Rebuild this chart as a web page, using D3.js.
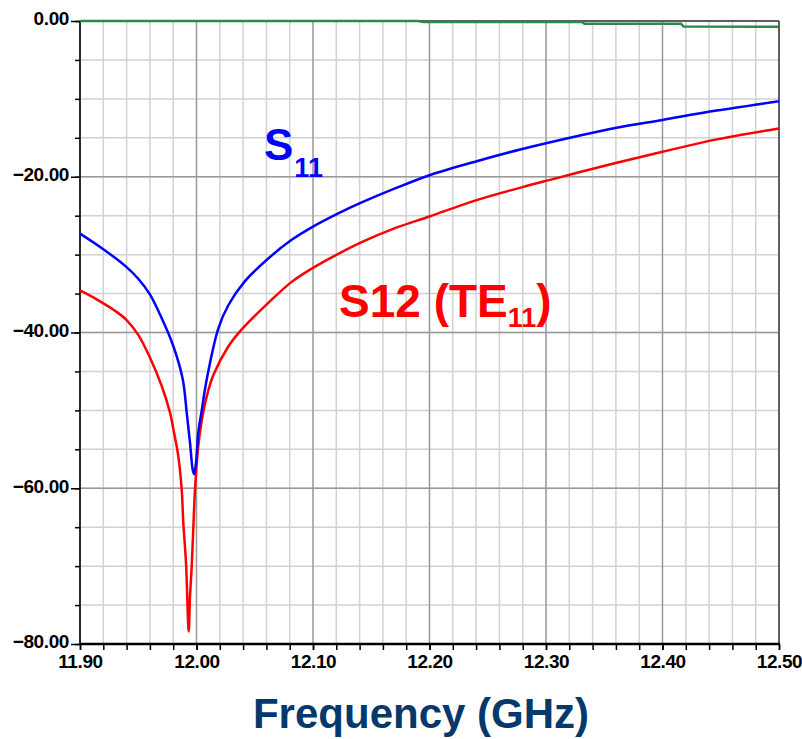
<!DOCTYPE html>
<html>
<head>
<meta charset="utf-8">
<script src="https://cdn.jsdelivr.net/npm/d3@7"></script>
<style>
  body { margin: 0; background: #fff; }
  text { font-family: "Liberation Sans", Arial, sans-serif; }
</style>
</head>
<body>
<script>
var w = 802;
var h = 739;

// S11 (blue)
var s11Freq = [11.900, 11.920, 11.940, 11.950, 11.960, 11.9687, 11.980, 11.9882, 11.9916, 11.9944,
               11.9967, 11.9979, 11.9996, 12.0015, 12.0045, 12.0088, 12.0187, 12.0273, 12.0416, 12.0616,
               12.0817, 12.100, 12.1217, 12.1418, 12.1704, 12.200, 12.2405, 12.2805, 12.3292, 12.3607,
               12.400, 12.4465, 12.500];
var s11dB = [-27.3, -29.3, -31.6, -33.1, -35.1, -37.7, -41.7, -46.0, -50.3, -54.1,
             -57.6, -58.2, -56.7, -52.9, -50.0, -46.0, -39.5, -36.5, -33.4, -30.5,
             -28.1, -26.4, -24.7, -23.3, -21.5, -19.8, -18.0, -16.4, -14.7, -13.7,
             -12.7, -11.5, -10.3];

// S12 TE11 (red)
var s12Freq = [11.900, 11.915, 11.930, 11.940, 11.950, 11.960, 11.970, 11.9773, 11.9801, 11.9844,
               11.9873, 11.9887, 11.991, 11.9933, 11.9944, 11.9959, 11.9973, 11.9987, 12.0015, 12.0045,
               12.0088, 12.0144, 12.0273, 12.0388, 12.0616, 12.0817, 12.100, 12.1217, 12.1418, 12.1704,
               12.200, 12.2405, 12.2805, 12.3034, 12.3292, 12.3607, 12.400, 12.4465, 12.500];
var s12dB = [-34.6, -35.8, -37.2, -38.4, -40.3, -43.2, -46.8, -50.3, -52.4, -55.9,
             -60.2, -64.5, -69.6, -78.4, -74.0, -70.0, -65.0, -60.2, -54.6, -51.3,
             -48.2, -45.5, -41.8, -39.6, -36.2, -33.5, -31.7, -29.9, -28.4, -26.6,
             -25.1, -23.0, -21.3, -20.4, -19.4, -18.2, -16.8, -15.2, -13.8];

// green trace near 0 dB
var s21Freq = [11.900, 12.190, 12.195, 12.331, 12.333, 12.416, 12.418, 12.500];
var s21dB = [0.0, 0.0, -0.12, -0.12, -0.35, -0.35, -0.70, -0.75];

var xMajor = [11.90, 12.00, 12.10, 12.20, 12.30, 12.40, 12.50];
var xMinor = d3.range(0, 31).map(function(i) { return +(11.90 + i * 0.02).toFixed(2); });
var yMajor = [0, -20, -40, -60, -80];
var yMinor = d3.range(0, 17).map(function(i) { return -5 * i; });

var padL = 80, padR = 779, padT = 21, padB = 644;

var x = d3.scaleLinear().domain([11.90, 12.50]).range([padL, padR]);
var y = d3.scaleLinear().domain([0, -80]).range([padT, padB]);

var svg = d3.select("body").append("svg")
    .attr("width", w)
    .attr("height", h);

svg.append("rect")
    .attr("width", w).attr("height", h)
    .attr("fill", "#ffffff");

// grid
var grid = svg.append("g");
grid.selectAll(".vmin").data(xMinor).enter().append("line")
    .attr("x1", function(d) { return x(d); }).attr("x2", function(d) { return x(d); })
    .attr("y1", padT).attr("y2", padB)
    .attr("stroke", "#d2d2d2").attr("stroke-width", 1.5);
grid.selectAll(".hmin").data(yMinor).enter().append("line")
    .attr("x1", padL).attr("x2", padR)
    .attr("y1", function(d) { return y(d); }).attr("y2", function(d) { return y(d); })
    .attr("stroke", "#d2d2d2").attr("stroke-width", 1.5);
grid.selectAll(".vmaj").data(xMajor).enter().append("line")
    .attr("x1", function(d) { return x(d); }).attr("x2", function(d) { return x(d); })
    .attr("y1", padT).attr("y2", padB)
    .attr("stroke", "#999999").attr("stroke-width", 1.3);
grid.selectAll(".hmaj").data(yMajor).enter().append("line")
    .attr("x1", padL).attr("x2", padR)
    .attr("y1", function(d) { return y(d); }).attr("y2", function(d) { return y(d); })
    .attr("stroke", "#999999").attr("stroke-width", 1.3);

// frame
svg.append("line").attr("x1", padR).attr("x2", padR).attr("y1", padT).attr("y2", padB)
    .attr("stroke", "#444").attr("stroke-width", 1.5);
svg.append("line").attr("x1", padL).attr("x2", padR).attr("y1", padT).attr("y2", padT)
    .attr("stroke", "#444").attr("stroke-width", 1.5);

// axes
var xAxisMinor = d3.axisBottom(x).tickValues(xMinor).tickSize(6).tickFormat("");
var xAxis = d3.axisBottom(x).tickValues(xMajor).tickSize(6).tickPadding(5)
    .tickFormat(d3.format(".2f"));
var yAxisMinor = d3.axisLeft(y).tickValues(yMinor).tickSize(5).tickFormat("");
var yAxis = d3.axisLeft(y).tickValues(yMajor).tickSize(9).tickPadding(2)
    .tickFormat(d3.format(".2f"));

function styleAxis(g) {
    g.select(".domain").remove();
    g.selectAll(".tick line").attr("stroke", "#000").attr("stroke-width", 1.5);
    g.selectAll(".tick text")
        .attr("fill", "#000")
        .attr("font-size", 19)
        .attr("font-weight", "bold")
        .attr("letter-spacing", "-0.4px")
        .attr("font-family", "Liberation Sans, Arial, sans-serif");
}

svg.append("g").attr("transform", "translate(0," + padB + ")").call(xAxisMinor).call(styleAxis);
svg.append("g").attr("transform", "translate(0," + padB + ")").call(xAxis).call(styleAxis);
svg.append("g").attr("transform", "translate(" + padL + ",0)").call(yAxisMinor).call(styleAxis);
var gy = svg.append("g").attr("transform", "translate(" + padL + ",0)").call(yAxis).call(styleAxis);
gy.selectAll(".tick text").attr("dy", "0.2em");

svg.append("line").attr("x1", padL).attr("x2", padL).attr("y1", padT).attr("y2", padB + 1)
    .attr("stroke", "#000").attr("stroke-width", 1.5);
svg.append("line").attr("x1", padL).attr("x2", padR + 1).attr("y1", padB).attr("y2", padB)
    .attr("stroke", "#000").attr("stroke-width", 2.5);

// traces
var line = d3.line()
    .x(function(d) { return x(d[0]); })
    .y(function(d) { return y(d[1]); })
    .curve(d3.curveCatmullRom.alpha(0.5));

svg.append("path")
    .datum(d3.zip(s21Freq, s21dB))
    .attr("d", d3.line().x(function(d) { return x(d[0]); }).y(function(d) { return y(d[1]); }))
    .attr("fill", "none").attr("stroke", "#2a8a4a").attr("stroke-width", 2.5);

svg.append("path")
    .datum(d3.zip(s12Freq, s12dB))
    .attr("d", line)
    .attr("fill", "none").attr("stroke", "#ff0000").attr("stroke-width", 2.5)
    .attr("stroke-linejoin", "round");

svg.append("path")
    .datum(d3.zip(s11Freq, s11dB))
    .attr("d", line)
    .attr("fill", "none").attr("stroke", "#0000ff").attr("stroke-width", 2.5)
    .attr("stroke-linejoin", "round");

// labels
var l1 = svg.append("text")
    .attr("x", 264).attr("y", 160)
    .attr("fill", "#0000ff").attr("font-weight", "bold").attr("font-size", 44);
l1.append("tspan").text("S");
l1.append("tspan").attr("font-size", 27).attr("dy", 17).attr("dx", 1).text("11");

var l2 = svg.append("text")
    .attr("x", 339).attr("y", 317)
    .attr("fill", "#ff0000").attr("font-weight", "bold").attr("font-size", 46);
l2.append("tspan").text("S12 (TE");
l2.append("tspan").attr("font-size", 27).attr("dy", 10).text("11");
l2.append("tspan").attr("dy", -10).text(")");

svg.append("text")
    .text("Frequency (GHz)")
    .attr("x", 421).attr("y", 728)
    .attr("text-anchor", "middle")
    .attr("fill", "#05386b")
    .attr("font-weight", "bold")
    .attr("font-size", 42);
</script>
</body>
</html>
